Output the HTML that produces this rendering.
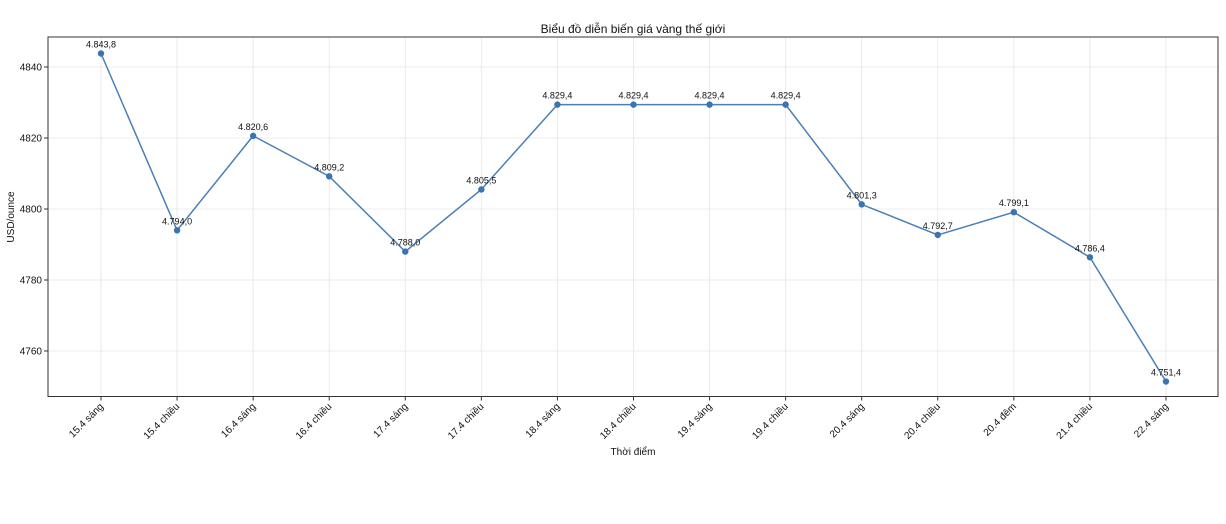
<!DOCTYPE html>
<html><head><meta charset="utf-8"><style>body{margin:0;background:#fff}svg{display:block;font-family:"Liberation Sans","DejaVu Sans",sans-serif}</style></head>
<body>
<svg width="1226" height="524" viewBox="0 0 1226 524" xmlns="http://www.w3.org/2000/svg">
<rect width="1226" height="524" fill="#fff"/>
<text x="633" y="33" font-size="12" text-anchor="middle" fill="#111">Biểu đồ diễn biến giá vàng thế giới</text>
<g id="grid" stroke="#e6e6e6" stroke-width="0.8"></g>
<rect x="48" y="37" width="1170" height="359.5" fill="none" stroke="#333" stroke-width="1"/>
<g id="yt" font-size="10" fill="#111"></g>
<g id="xt" font-size="10" fill="#111"></g>
<polyline id="line" fill="none" stroke="#4a7fb5" stroke-width="1.5"/>
<g id="pts" fill="#3b74b0"></g>
<g id="lbl" font-size="9" fill="#111" text-anchor="middle"></g>
<text x="633" y="455" font-size="10" text-anchor="middle" fill="#111">Thời điểm</text>
<text transform="translate(14,217) rotate(-90)" font-size="10" text-anchor="middle" fill="#111">USD/ounce</text>
</svg>
<script>
const ns="http://www.w3.org/2000/svg";
const v=[4843.8,4794.0,4820.6,4809.2,4788.0,4805.5,4829.4,4829.4,4829.4,4829.4,4801.3,4792.7,4799.1,4786.4,4751.4];
const n=["15.4 sáng","15.4 chiều","16.4 sáng","16.4 chiều","17.4 sáng","17.4 chiều","18.4 sáng","18.4 chiều","19.4 sáng","19.4 chiều","20.4 sáng","20.4 chiều","20.4 đêm","21.4 chiều","22.4 sáng"];
const X=i=>101+i*76.07, Y=t=>67+(4840-t)*3.55;
function el(p,t,a,txt){const e=document.createElementNS(ns,t);for(const k in a)e.setAttribute(k,a[k]);if(txt)e.textContent=txt;document.getElementById(p).appendChild(e);}
[4760,4780,4800,4820,4840].forEach(t=>{const y=Y(t);el("grid","line",{x1:48,x2:1218,y1:y,y2:y});el("yt","line",{x1:44,x2:48,y1:y,y2:y,stroke:"#333"});el("yt","text",{x:42,y:y+3.5,"text-anchor":"end"},t);});
let pts=[];
v.forEach((t,i)=>{const x=X(i),y=Y(t);pts.push(x+","+y);
el("grid","line",{x1:x,x2:x,y1:37,y2:396.5});
el("xt","line",{x1:x,x2:x,y1:396.5,y2:400.5,stroke:"#333"});
el("xt","text",{x:x+3,y:407,"text-anchor":"end",transform:`rotate(-45 ${x+3} 407)`},n[i]);
el("pts","circle",{cx:x,cy:y,r:3.2});
el("lbl","text",{x:x,y:y-6},t.toFixed(1).replace(/^(\d)(\d{3})\./,"$1.$2,"));});
document.getElementById("line").setAttribute("points",pts.join(" "));
</script>
</body></html>
